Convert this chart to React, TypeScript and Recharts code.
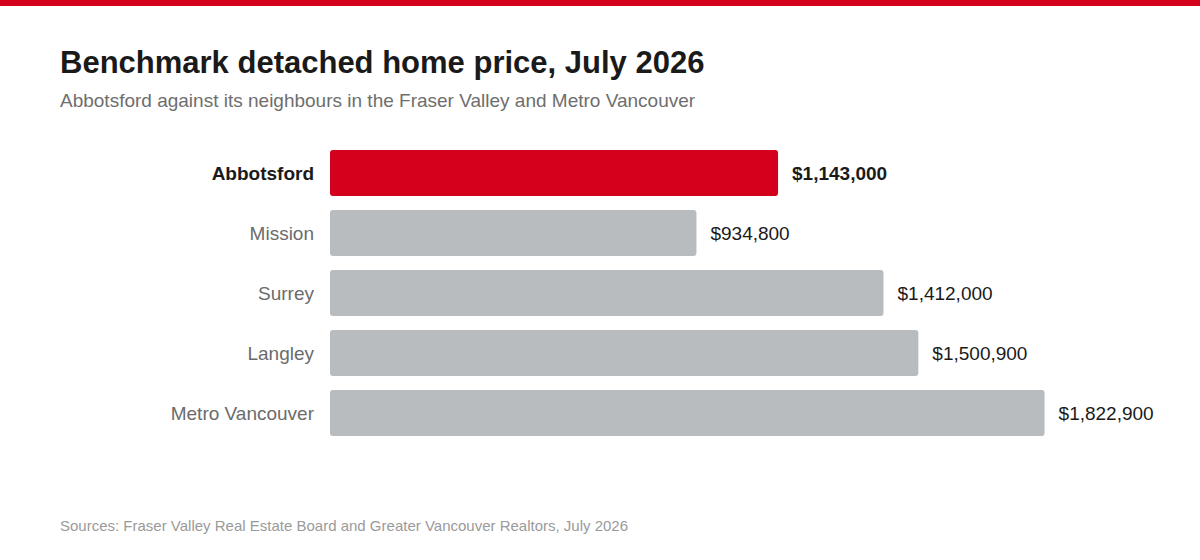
import * as React from "react";
import { Bar, BarChart, Cell, LabelList, XAxis, YAxis } from "recharts";

const regions = ["Abbotsford", "Mission", "Surrey", "Langley", "Metro Vancouver"];
const prices = [1143000, 934800, 1412000, 1500900, 1822900];
const highlight = "Abbotsford";

const data = regions.map((name, i) => ({ name, price: prices[i] }));

const RED = "#d3011b";
const GREY = "#b9bcbf";
const FONT = "'Liberation Sans', Arial, Helvetica, sans-serif";

const fmt = (v: number) => "$" + v.toLocaleString("en-US");

const RegionTick = (props: any) => {
  const { x, y, payload } = props;
  const hi = payload.value === highlight;
  return (
    <text
      x={x}
      y={y}
      dy={6.5}
      textAnchor="end"
      fontFamily={FONT}
      fontSize={19}
      fontWeight={hi ? 700 : 400}
      fill={hi ? "#1a1a1a" : "#6b6b6b"}
    >
      {payload.value}
    </text>
  );
};

const ValueLabel = (props: any) => {
  const { x, y, width, height, value, index } = props;
  const hi = regions[index] === highlight;
  return (
    <text
      x={x + width + 14}
      y={y + height / 2}
      dy={6.5}
      fontFamily={FONT}
      fontSize={19}
      fontWeight={hi ? 700 : 400}
      fill="#1a1a1a"
    >
      {fmt(value)}
    </text>
  );
};

export default function App() {
  return (
    <div
      style={{
        position: "absolute",
        top: 0,
        left: 0,
        width: 1200,
        height: 560,
        background: "#fff",
        fontFamily: FONT,
        overflow: "hidden",
      }}
    >
      <div style={{ position: "absolute", top: 0, left: 0, width: 1200, height: 6, background: RED }} />
      <div
        style={{
          position: "absolute",
          top: 45,
          left: 60,
          fontSize: 31,
          fontWeight: 700,
          color: "#1a1a1a",
          whiteSpace: "nowrap",
        }}
      >
        Benchmark detached home price, July 2026
      </div>
      <div
        style={{
          position: "absolute",
          top: 90,
          left: 60,
          fontSize: 19,
          color: "#6e6e6e",
          whiteSpace: "nowrap",
        }}
      >
        Abbotsford against its neighbours in the Fraser Valley and Metro Vancouver
      </div>
      <div style={{ position: "absolute", top: 0, left: 0 }}>
        <BarChart
          width={1200}
          height={560}
          data={data}
          layout="vertical"
          margin={{ top: 143, right: 86, bottom: 117, left: 0 }}
          barCategoryGap={7}
        >
          <XAxis type="number" domain={[0, 2000000]} hide />
          <YAxis
            type="category"
            dataKey="name"
            width={330}
            axisLine={false}
            tickLine={false}
            tickMargin={10}
            tick={<RegionTick />}
          />
          <Bar dataKey="price" radius={3} isAnimationActive={false}>
            {data.map((d) => (
              <Cell key={d.name} fill={d.name === highlight ? RED : GREY} />
            ))}
            <LabelList dataKey="price" content={<ValueLabel />} />
          </Bar>
        </BarChart>
      </div>
      <div
        style={{
          position: "absolute",
          top: 517,
          left: 60,
          fontSize: 15,
          color: "#9a9a9a",
          whiteSpace: "nowrap",
        }}
      >
        Sources: Fraser Valley Real Estate Board and Greater Vancouver Realtors, July 2026
      </div>
    </div>
  );
}
